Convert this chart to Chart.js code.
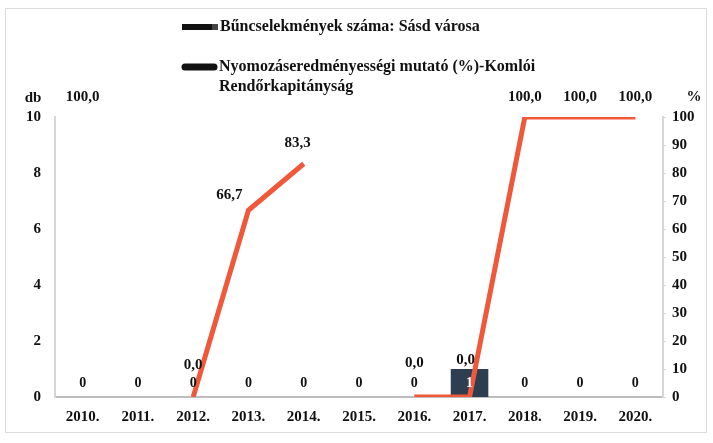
<!DOCTYPE html>
<html>
<head>
<meta charset="utf-8">
<script src="https://cdn.jsdelivr.net/npm/chart.js@4.4.1/dist/chart.umd.min.js"></script>
<style>
  html, body { margin: 0; padding: 0; background: #fff; }
</style>
</head>
<body>
<canvas id="chart" width="713" height="443"></canvas>
<script>
// data
const years = ['2010.', '2011.', '2012.', '2013.', '2014.', '2015.', '2016.', '2017.', '2018.', '2019.', '2020.'];
const crimeCounts = [0, 0, 0, 0, 0, 0, 0, 1, 0, 0, 0];
const clearanceRate = [100, null, 0, 66.7, 83.3, null, 0, 0, 100, 100, 100];
const leftTicks = [0, 2, 4, 6, 8, 10];
const rightTicks = [0, 10, 20, 30, 40, 50, 60, 70, 80, 90, 100];

const barLabel = 'Bűncselekmények száma: Sásd városa';
const lineLabel = ['Nyomozáseredményességi mutató (%)-Komlói', 'Rendőrkapitányság'];

const serif = '"Liberation Serif", "Times New Roman", serif';
const barColor = '#2e3e51';
const lineColor = '#f0583b';

// label nudges for the line values (dx, dy from the point)
const lineLabelShift = [[0, -20], [0, 0], [0, -32], [-19, -15], [-6, -21], [0, 0], [0, -34], [-4, -37], [0, -20], [0, -20], [0, -20]];

const decorations = {
    id: 'decorations',
    afterDatasetsDraw(chart) {
        const ctx = chart.ctx;
        ctx.save();

        // faint scan frame
        ctx.strokeStyle = '#dcdcdc';
        ctx.lineWidth = 1;
        ctx.strokeRect(5.5, 8.5, 701, 424);

        // legend
        ctx.fillStyle = '#111';
        ctx.fillRect(182, 24, 30, 6);
        ctx.fillStyle = '#444';
        ctx.fillRect(212, 24, 6, 6);
        ctx.strokeStyle = '#111';
        ctx.lineWidth = 7;
        ctx.lineCap = 'round';
        ctx.beginPath();
        ctx.moveTo(185, 67);
        ctx.lineTo(214, 67);
        ctx.stroke();

        ctx.fillStyle = '#111';
        ctx.textBaseline = 'middle';
        ctx.textAlign = 'left';
        ctx.font = 'bold 16px ' + serif;
        ctx.fillText(barLabel, 220, 27);
        ctx.fillText(lineLabel[0], 219, 67);
        ctx.fillText(lineLabel[1], 219, 87);

        // axis titles
        ctx.font = 'bold 15px ' + serif;
        ctx.textAlign = 'center';
        ctx.fillText('db', 33, 98);
        ctx.fillText('%', 694, 97);

        // bar value labels
        const barMeta = chart.getDatasetMeta(0);
        ctx.font = 'bold 14px ' + serif;
        barMeta.data.forEach((bar, i) => {
            ctx.fillStyle = crimeCounts[i] > 0 ? '#fff' : '#111';
            ctx.fillText(String(crimeCounts[i]), bar.x, chart.scales.y.getPixelForValue(0) - 14);
        });

        // line value labels
        const lineMeta = chart.getDatasetMeta(1);
        ctx.fillStyle = '#111';
        ctx.font = 'bold 15px ' + serif;
        lineMeta.data.forEach((pt, i) => {
            const v = clearanceRate[i];
            if (v === null) return;
            const s = lineLabelShift[i];
            ctx.fillText(v.toFixed(1).replace('.', ','), pt.x + s[0], pt.y + s[1]);
        });

        ctx.restore();
    }
};

const tickFont = { family: serif, size: 15, weight: 'bold' };

new Chart(document.getElementById('chart'), {
    type: 'bar',
    data: {
        labels: years,
        datasets: [
            {
                type: 'bar',
                label: barLabel,
                data: crimeCounts,
                backgroundColor: barColor,
                barPercentage: 0.68,
                categoryPercentage: 1,
                yAxisID: 'y',
                order: 1
            },
            {
                type: 'line',
                label: lineLabel.join(' '),
                data: clearanceRate,
                borderColor: lineColor,
                borderWidth: 5,
                pointRadius: 0,
                tension: 0,
                spanGaps: false,
                yAxisID: 'y1',
                order: 0
            }
        ]
    },
    options: {
        responsive: false,
        animation: false,
        devicePixelRatio: 1,
        layout: { padding: { top: 117, left: 0, right: 0, bottom: 0 } },
        plugins: {
            legend: { display: false },
            tooltip: { enabled: false }
        },
        scales: {
            x: {
                grid: { display: false },
                border: { color: '#bdbdbd', width: 2 },
                ticks: { color: '#111', font: tickFont, padding: 3 },
                afterFit: scale => { scale.height = 46; }
            },
            y: {
                position: 'left',
                min: 0,
                max: 10,
                afterBuildTicks: scale => { scale.ticks = leftTicks.map(v => ({ value: v })); },
                grid: { display: false },
                border: { color: '#d6d6d6', width: 2 },
                ticks: { color: '#111', font: tickFont, padding: 6 },
                afterFit: scale => { scale.width = 55; }
            },
            y1: {
                position: 'right',
                min: 0,
                max: 100,
                afterBuildTicks: scale => { scale.ticks = rightTicks.map(v => ({ value: v })); },
                grid: { drawOnChartArea: false, tickLength: 3, color: '#d6d6d6' },
                border: { color: '#d6d6d6', width: 2 },
                ticks: { color: '#111', font: tickFont, padding: 6 },
                afterFit: scale => { scale.width = 50; }
            }
        }
    },
    plugins: [decorations]
});
</script>
</body>
</html>
